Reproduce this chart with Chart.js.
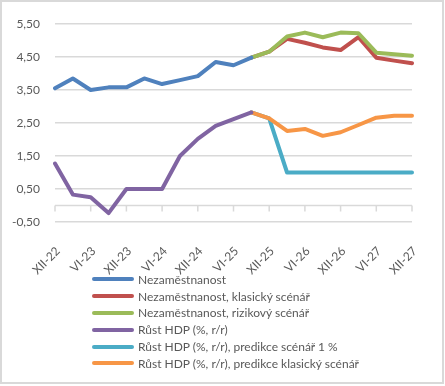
<!DOCTYPE html>
<html>
<head>
<meta charset="utf-8">
<script src="https://cdn.jsdelivr.net/npm/chart.js@4.4.0/dist/chart.umd.min.js"></script>
<style>
    html, body { margin: 0; padding: 0; background: #fff; }
    #wrap { position: relative; width: 445px; height: 386px; overflow: hidden; }
    #frame {
        position: absolute; left: 0; top: 0;
        width: 440px; height: 380px;
        border: 2px solid #d9d9d9;
        pointer-events: none;
    }
    #legend {
        position: absolute; left: 92px; top: 271px;
        font: 12px Lato, sans-serif; color: #595959;
    }
    .legend-row { display: flex; align-items: center; height: 16.8px; }
    .legend-line { width: 42px; height: 4px; border-radius: 2px; margin-right: 4px; }
</style>
</head>
<body>
<div id="wrap">
    <canvas id="chart" width="445" height="386"></canvas>
    <div id="legend"></div>
    <div id="frame"></div>
</div>
<script>
// čtvrtletí XII-22 .. XII-27
const categories = [
    'XII-22', 'III-23', 'VI-23', 'IX-23', 'XII-23', 'III-24', 'VI-24', 'IX-24', 'XII-24',
    'III-25', 'VI-25', 'IX-25', 'XII-25', 'III-26', 'VI-26', 'IX-26', 'XII-26',
    'III-27', 'VI-27', 'IX-27', 'XII-27'
];
const yTicks = [-0.5, 0.5, 1.5, 2.5, 3.5, 4.5, 5.5];

const unemployment = [3.55, 3.85, 3.50, 3.58, 3.58, 3.85, 3.68, 3.80, 3.92, 4.35, 4.25, 4.48,
    null, null, null, null, null, null, null, null, null];
const unemploymentBase = [null, null, null, null, null, null, null, null, null, null, null,
    4.48, 4.66, 5.05, 4.93, 4.79, 4.71, 5.10, 4.48, 4.39, 4.31];
const unemploymentRisk = [null, null, null, null, null, null, null, null, null, null, null,
    4.48, 4.66, 5.12, 5.24, 5.10, 5.24, 5.22, 4.63, 4.58, 4.54];
const gdp = [1.27, 0.33, 0.25, -0.23, 0.50, 0.50, 0.50, 1.50, 2.02, 2.41, 2.62, 2.82,
    null, null, null, null, null, null, null, null, null];
const gdpScenario1 = [null, null, null, null, null, null, null, null, null, null, null,
    2.82, 2.64, 1.00, 1.00, 1.00, 1.00, 1.00, 1.00, 1.00, 1.00];
const gdpBase = [null, null, null, null, null, null, null, null, null, null, null,
    2.82, 2.64, 2.26, 2.32, 2.11, 2.22, 2.44, 2.66, 2.72, 2.72];

const GRID = '#d9d9d9';
const TEXT = '#595959';

function series(label, data, color, order) {
    return {
        label: label,
        data: data,
        borderColor: color,
        backgroundColor: color,
        borderWidth: 4,
        pointRadius: 0,
        borderJoinStyle: 'round',
        borderCapStyle: 'round',
        tension: 0,
        spanGaps: false,
        order: order
    };
}

// osa v nule s čárkami
const zeroAxis = {
    id: 'zeroAxis',
    beforeDatasetsDraw(chart) {
        const ctx = chart.ctx;
        const x = chart.scales.x;
        const y0 = chart.scales.y.getPixelForValue(0);
        ctx.save();
        ctx.strokeStyle = GRID;
        ctx.lineWidth = 1.5;
        ctx.beginPath();
        ctx.moveTo(chart.chartArea.left, y0);
        ctx.lineTo(chart.chartArea.right, y0);
        categories.forEach((c, i) => {
            if (i % 2 !== 0) return;
            const px = x.getPixelForValue(i);
            ctx.moveTo(px, y0);
            ctx.lineTo(px, y0 + 6);
        });
        ctx.stroke();
        ctx.restore();
    }
};

const chart = new Chart(document.getElementById('chart'), {
    type: 'line',
    data: {
        labels: categories,
        datasets: [
            series('Nezaměstnanost', unemployment, '#4F81BD', 0),
            series('Nezaměstnanost, klasický scénář', unemploymentBase, '#C0504D', 2),
            series('Nezaměstnanost, rizikový scénář', unemploymentRisk, '#9BBB59', 1),
            series('Růst HDP (%, r/r)', gdp, '#8064A2', 3),
            series('Růst HDP (%, r/r), predikce scénář 1 %', gdpScenario1, '#4BACC6', 5),
            series('Růst HDP (%, r/r), predikce klasický scénář', gdpBase, '#F79646', 4)
        ]
    },
    options: {
        responsive: false,
        animation: false,
        layout: { padding: { left: 0, right: 33, top: 24, bottom: 104 } },
        plugins: {
            legend: { display: false },
            tooltip: { enabled: false }
        },
        scales: {
            x: {
                grid: { display: false },
                border: { display: false },
                ticks: {
                    autoSkip: false,
                    minRotation: 45,
                    maxRotation: 45,
                    padding: 14,
                    labelOffset: 3,
                    color: TEXT,
                    font: { family: 'Lato', size: 12 },
                    callback: (v, i) => (i % 2 === 0 ? categories[i] : '')
                },
                afterFit: s => { s.height = 60; }
            },
            y: {
                min: -0.5,
                max: 5.5,
                afterBuildTicks: s => { s.ticks = yTicks.map(v => ({ value: v })); },
                grid: { color: GRID, lineWidth: 1.5, drawTicks: false },
                border: { display: false },
                ticks: {
                    padding: 15,
                    color: TEXT,
                    font: { family: 'Lato', size: 12 },
                    callback: v => v.toFixed(2).replace('.', ',')
                },
                afterFit: s => { s.width = 55; }
            }
        }
    },
    plugins: [zeroAxis]
});

// legenda pod grafem
const legend = document.getElementById('legend');
chart.data.datasets.forEach(ds => {
    const row = document.createElement('div');
    row.className = 'legend-row';
    const line = document.createElement('span');
    line.className = 'legend-line';
    line.style.background = ds.borderColor;
    const txt = document.createElement('span');
    txt.textContent = ds.label;
    row.appendChild(line);
    row.appendChild(txt);
    legend.appendChild(row);
});
</script>
</body>
</html>
